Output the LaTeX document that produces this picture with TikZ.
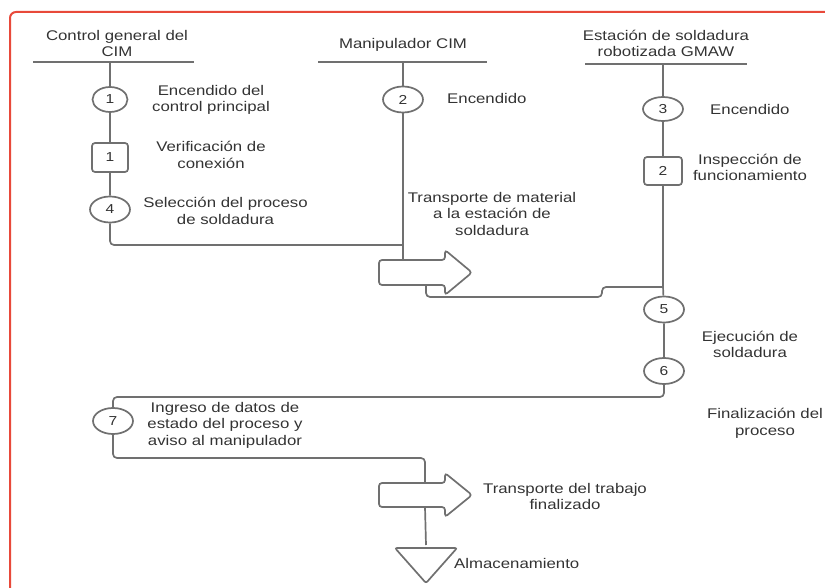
\documentclass[tikz,border=0pt]{standalone}
\usepackage{fontspec}
\setmainfont[FakeStretch=1.2]{Liberation Sans}
\usetikzlibrary{shapes.geometric}
\definecolor{framered}{HTML}{E8493A}
\definecolor{flowgray}{HTML}{707070}
\definecolor{txtgray}{HTML}{333333}
\tikzset{
  flow/.style={draw=flowgray, line width=1.7pt, rounded corners=4pt},
  opcirc/.style={ellipse, draw=flowgray, line width=1.7pt, fill=white,
    inner sep=0pt, minimum width=40pt, minimum height=26pt, text=txtgray,
    font=\fontsize{13}{15}\selectfont},
  inspbox/.style={rectangle, rounded corners=3pt, draw=flowgray, line width=1.7pt,
    fill=white, inner sep=0pt, minimum width=36pt, minimum height=29pt,
    text=txtgray, font=\fontsize{13}{15}\selectfont},
  lbl/.style={align=center, text=txtgray, inner sep=0pt,
    font=\fontsize{14}{16.5}\selectfont},
  lbll/.style={lbl, anchor=west, align=left}
}
\begin{document}
\begin{tikzpicture}[x=1pt,y=-1pt]
\useasboundingbox (0,0) rectangle (825,588);
\clip (0,0) rectangle (825,588);

% outer frame
\draw[framered, line width=2pt, rounded corners=6pt] (10,600) -- (10,12) -- (840,12);

% column headers
\node[lbl] (h1) at (117,43.5) {Control general del\\CIM};
\node[lbl] (h2) at (403,45) {Manipulador CIM};
\node[lbl] (h3) at (666,43.5) {Estación de soldadura\\robotizada GMAW};
\coordinate (h1l) at (33,62);  \coordinate (h1r) at (194,62);
\coordinate (h2l) at (318,62); \coordinate (h2r) at (487,62);
\coordinate (h3l) at (585,64); \coordinate (h3r) at (747,64);
\draw[flow] (h1l) -- (h1r);
\draw[flow] (h2l) -- (h2r);
\draw[flow] (h3l) -- (h3r);
\coordinate (t1) at (110,62);
\coordinate (t2) at (403,62);
\coordinate (t3) at (663,64);

% column 1: general control
\node[opcirc, minimum width=35pt, minimum height=25pt] (e1) at (110,99.5) {1};
\node[inspbox] (s1) at (110,157.5) {1};
\node[opcirc] (e4) at (110,209.5) {4};
\coordinate (c1) at (403,245);
\draw[flow] (t1) -- (e1) -- (s1) -- (e4) -- (e4.south |- c1) -- (c1);

\node[lbl] (l1) at (211,100) {Encendido del\\control principal};
\node[lbl] (l2) at (211,155) {Verificación de\\conexión};
\node[lbl] (l3) at (225.5,211) {Selección del proceso\\de soldadura};

% column 2: handling unit
\node[opcirc] (e2) at (403,99.5) {2};
\node[lbll] (l4) at (447,98.5) {Encendido};
\node[lbl] (l5) at (492,213.5) {Transporte de material\\a la estación de\\soldadura};

% transport arrow 1
\coordinate (a1top) at (403,260);
\coordinate (a1bot) at (426,285);
\draw[flowgray, line width=1.7pt, fill=white, rounded corners=3pt]
  (379,260) -- (445,260) -- (445,250) -- (472,272.5) -- (445,295) -- (445,285)
  -- (379,285) -- cycle;
\draw[flow] (t2) -- (e2) -- (a1top);

% column 3: welding station
\node[opcirc, minimum height=24pt] (e3) at (663,109) {3};
\node[lbll] (l6) at (710,109) {Encendido};
\node[inspbox, minimum width=38pt, minimum height=28pt] (s2) at (663,171) {2};
\node[lbl] (l7) at (750,167.5) {Inspección de\\funcionamiento};
\node[opcirc] (e5) at (664,309.5) {5};
\node[opcirc] (e6) at (664,371) {6};
\node[lbl] (l8) at (750,344.5) {Ejecución de\\soldadura};
\node[lbl] (l9) at (765,423.5) {Finalización del\\proceso};
\coordinate (j3) at (663,287);
\draw[flow] (t3) -- (e3) -- (s2) -- (j3) -- (e5) -- (e6);
\draw[flow] (a1bot) -- (426,297) -- (602,297) -- (602,287) -- (j3);

% return to general control
\node[opcirc] (e7) at (113,421) {7};
\node[lbl] (l10) at (225,425) {Ingreso de datos de\\estado del proceso y\\aviso al manipulador};
\coordinate (a2top) at (425,483);
\coordinate (a2bot) at (425,507);
\draw[flow] (e6) -- (e6.south |- 0,397) -- (e7.north |- 0,397) -- (e7);
\draw[flow] (e7) -- (e7.south |- 0,458) -- (a2top |- 0,458) -- (a2top);

% transport arrow 2
\draw[flowgray, line width=1.7pt, fill=white, rounded corners=3pt]
  (379,483) -- (445,483) -- (445,473) -- (472,495) -- (445,517) -- (445,507)
  -- (379,507) -- cycle;
\node[lbl] (l11) at (565,496.5) {Transporte del trabajo\\finalizado};

% storage
\node[isosceles triangle, shape border rotate=-90, isosceles triangle stretches,
  draw=flowgray, line width=1.7pt, fill=white, inner sep=0pt,
  minimum width=62pt, minimum height=35pt, rounded corners=2pt] (st) at (426,562) {};
\draw[flow] (a2bot) -- (st.north |- 0,545);
\node[lbll] (l12) at (454,563) {Almacenamiento};
\end{tikzpicture}
\end{document}
